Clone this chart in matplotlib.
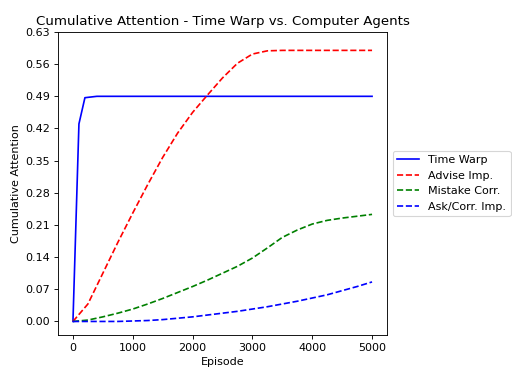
import matplotlib
matplotlib.use('Agg')
import matplotlib.pyplot as plt
import numpy as np

# episodes for the time warp curve
tw_episodes = [0, 100, 200, 400, 1000, 2000, 3000, 4000, 5000]
tw_values = [0.0, 0.43, 0.487, 0.49, 0.49, 0.49, 0.49, 0.49, 0.49]

# computer agents, sampled every 250 episodes
episodes = list(range(0, 5001, 250))
advise_imp = [0.0, 0.038, 0.105, 0.172, 0.236, 0.298, 0.357, 0.41, 0.455, 0.493, 0.53, 0.562, 0.582, 0.589,
              0.59, 0.59, 0.59, 0.59, 0.59, 0.59, 0.59]
mistake_corr = [0.0, 0.003, 0.01, 0.018, 0.027, 0.038, 0.05, 0.063, 0.076, 0.09, 0.105, 0.12, 0.138, 0.16,
                0.183, 0.199, 0.212, 0.22, 0.225, 0.229, 0.233]
ask_corr_imp = [0.0, 0.0, 0.0, 0.0, 0.001, 0.002, 0.004, 0.007, 0.01, 0.014, 0.018, 0.022, 0.027, 0.032,
                0.038, 0.044, 0.051, 0.058, 0.067, 0.076, 0.086]

yticks = [0.0, 0.07, 0.14, 0.21, 0.28, 0.35, 0.42, 0.49, 0.56, 0.63]

fig = plt.figure(figsize=(512 / 80, 370 / 80), dpi=80)
ax = fig.add_axes([58 / 512, 1 - 335 / 370, (387 - 58) / 512, (335 - 32) / 370])

ax.plot(tw_episodes, tw_values, '-', color='blue', label='Time Warp')
ax.plot(episodes, advise_imp, '--', color='red', label='Advise Imp.')
ax.plot(episodes, mistake_corr, '--', color='green', label='Mistake Corr.')
ax.plot(episodes, ask_corr_imp, '--', color='blue', label='Ask/Corr. Imp.')

ax.set_yticks(yticks)
ax.set_yticklabels([f'{v:.2f}' for v in yticks])
ax.set_ylim(-0.0295, 0.63)
ax.set_xticks([0, 1000, 2000, 3000, 4000, 5000])
ax.set_xlim(-250, 5250)

ax.set_title('Cumulative Attention - Time Warp vs. Computer Agents')
ax.set_xlabel('Episode')
ax.set_ylabel('Cumulative Attention')
ax.legend(loc='center left', bbox_to_anchor=(1.0, 0.5))

fig.savefig('out.png', dpi=80)
